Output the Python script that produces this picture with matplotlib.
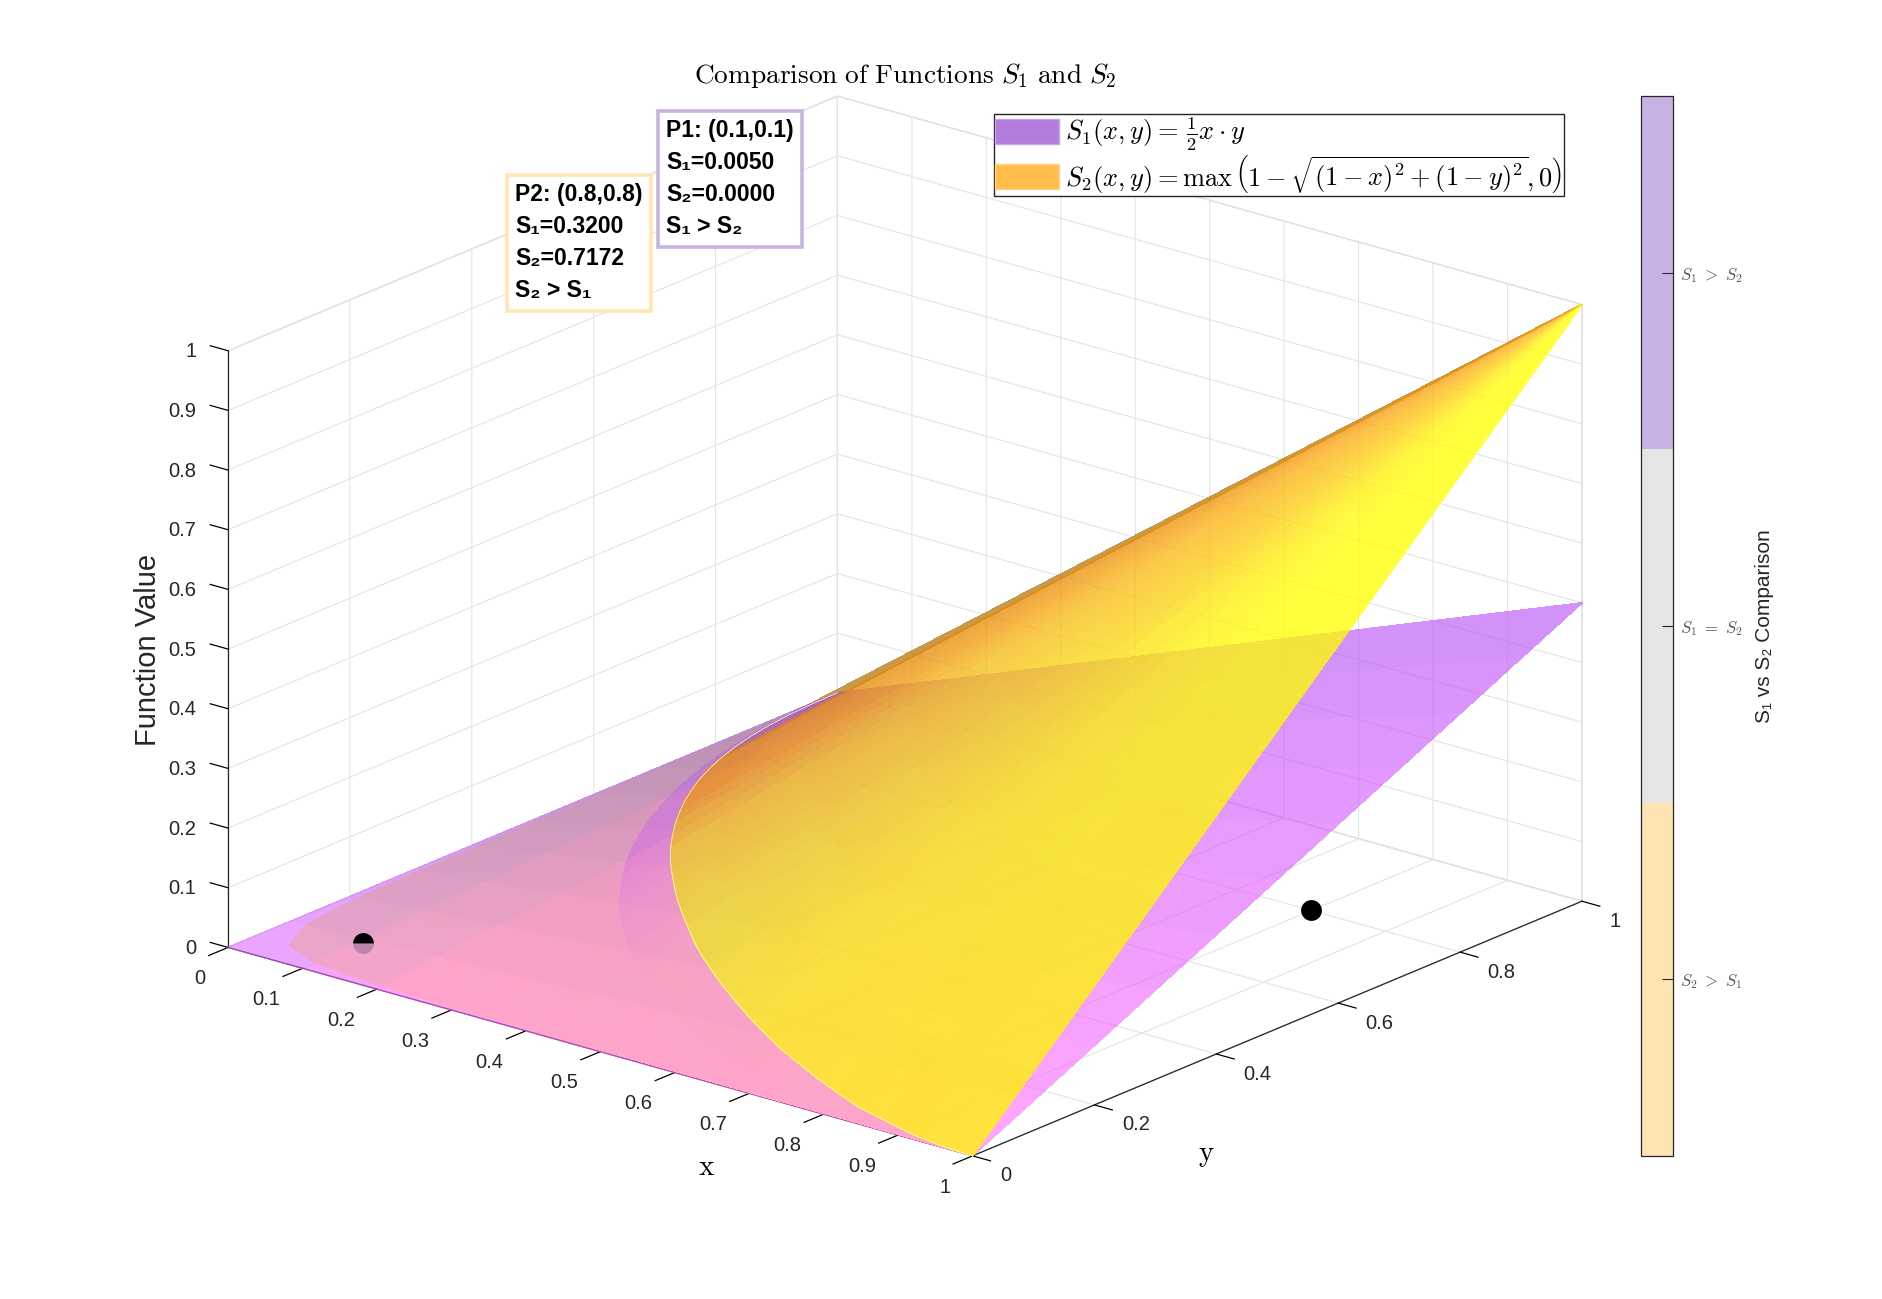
"""
COMPARISON OF S1 AND S2 SURFACES
"""

import matplotlib
matplotlib.use("Agg")

import matplotlib.pyplot as plt
import numpy as np
from matplotlib.cm import ScalarMappable
from matplotlib.colors import BoundaryNorm, ListedColormap
from matplotlib.patches import Patch

plt.rcParams["font.family"] = ["Liberation Sans", "DejaVu Sans"]
plt.rcParams["mathtext.fontset"] = "cm"

W, H = 1882, 1299

# --- data ---
x_ticks = [0, 0.1, 0.2, 0.3, 0.4, 0.5, 0.6, 0.7, 0.8, 0.9, 1]
x_tick_labels = ["0", "0.1", "0.2", "0.3", "0.4", "0.5", "0.6", "0.7", "0.8", "0.9", "1"]
y_ticks = [0, 0.2, 0.4, 0.6, 0.8, 1]
y_tick_labels = ["0", "0.2", "0.4", "0.6", "0.8", "1"]
z_ticks = [0, 0.1, 0.2, 0.3, 0.4, 0.5, 0.6, 0.7, 0.8, 0.9, 1]
z_tick_labels = ["0", "0.1", "0.2", "0.3", "0.4", "0.5", "0.6", "0.7", "0.8", "0.9", "1"]

s1_x = [0, 0.1, 0.2, 0.3, 0.4, 0.5, 0.6, 0.7, 0.8, 0.9, 1]
s1_y = [0, 0.1, 0.2, 0.3, 0.4, 0.5, 0.6, 0.7, 0.8, 0.9, 1]
s1_values = [
    [0, 0, 0, 0, 0, 0, 0, 0, 0, 0, 0],
    [0, 0.005, 0.01, 0.015, 0.02, 0.025, 0.03, 0.035, 0.04, 0.045, 0.05],
    [0, 0.01, 0.02, 0.03, 0.04, 0.05, 0.06, 0.07, 0.08, 0.09, 0.1],
    [0, 0.015, 0.03, 0.045, 0.06, 0.075, 0.09, 0.105, 0.12, 0.135, 0.15],
    [0, 0.02, 0.04, 0.06, 0.08, 0.1, 0.12, 0.14, 0.16, 0.18, 0.2],
    [0, 0.025, 0.05, 0.075, 0.1, 0.125, 0.15, 0.175, 0.2, 0.225, 0.25],
    [0, 0.03, 0.06, 0.09, 0.12, 0.15, 0.18, 0.21, 0.24, 0.27, 0.3],
    [0, 0.035, 0.07, 0.105, 0.14, 0.175, 0.21, 0.245, 0.28, 0.315, 0.35],
    [0, 0.04, 0.08, 0.12, 0.16, 0.2, 0.24, 0.28, 0.32, 0.36, 0.4],
    [0, 0.045, 0.09, 0.135, 0.18, 0.225, 0.27, 0.315, 0.36, 0.405, 0.45],
    [0, 0.05, 0.1, 0.15, 0.2, 0.25, 0.3, 0.35, 0.4, 0.45, 0.5],
]

# S2 is a cone around (1, 1): height by distance from the apex, one ruling per angle
s2_angles = [0, 2.5, 5, 7.5, 10, 12.5, 15, 17.5, 20, 22.5, 25, 27.5, 30, 32.5, 35, 37.5, 40, 42.5, 45,
             47.5, 50, 52.5, 55, 57.5, 60, 62.5, 65, 67.5, 70, 72.5, 75, 77.5, 80, 82.5, 85, 87.5, 90]
s2_radii = [0, 0.1, 0.2, 0.3, 0.4, 0.5, 0.6, 0.7, 0.8, 0.9, 1]
s2_heights = [1, 0.9, 0.8, 0.7, 0.6, 0.5, 0.4, 0.3, 0.2, 0.1, 0]
# where S2 dips under S1 along each ruling
s2_cross_radii = [1.0, 0.999, 0.997, 0.993, 0.99, 0.985, 0.98, 0.975, 0.971, 0.966, 0.962, 0.958,
                  0.955, 0.952, 0.95, 0.948, 0.946, 0.945, 0.945, 0.945, 0.946, 0.948, 0.95, 0.952,
                  0.955, 0.958, 0.962, 0.966, 0.971, 0.975, 0.98, 0.985, 0.99, 0.993, 0.997, 0.999, 1.0]
s2_cross_heights = [0, 0.001, 0.003, 0.007, 0.01, 0.015, 0.02, 0.025, 0.029, 0.034, 0.038, 0.042,
                    0.045, 0.048, 0.05, 0.052, 0.054, 0.055, 0.055, 0.055, 0.054, 0.052, 0.05, 0.048,
                    0.045, 0.042, 0.038, 0.034, 0.029, 0.025, 0.02, 0.015, 0.01, 0.007, 0.003, 0.001, 0]
# flat S2 = 0 part, stops just short of the x = 0 and y = 0 edges
s2_flat_radii = [1, 1.05, 1.1, 1.15, 1.2, 1.25, 1.3, 1.35, 1.4]
s2_flat_ends = [1.0, 1.0, 1.002, 1.007, 1.013, 1.022, 1.033, 1.046, 1.061, 1.079, 1.099, 1.123,
                1.149, 1.179, 1.213, 1.25, 1.29, 1.329, 1.35, 1.329, 1.29, 1.25, 1.213, 1.179,
                1.149, 1.123, 1.099, 1.079, 1.061, 1.046, 1.033, 1.022, 1.013, 1.007, 1.002, 1.0, 1.0]

point_x = [0.1, 0.8]
point_y = [0.1, 0.8]
point_z = [0, 0]

comparison_codes = [-1, 0, 1]
comparison_labels = [r"$S_2\ >\ S_1$", r"$S_1\ =\ S_2$", r"$S_1\ >\ S_2$"]
comparison_colors = ["#FFE3B0", "#E5E5E5", "#C8B2E4"]

p1_text = "P1: (0.1,0.1)\nS\u2081=0.0050\nS\u2082=0.0000\nS\u2081 > S\u2082"
p2_text = "P2: (0.8,0.8)\nS\u2081=0.3200\nS\u2082=0.7172\nS\u2082 > S\u2081"

S2_ALPHA = 0.77
S1_ALPHA = 0.6
BACK_RULINGS = 7  # rulings up to 15 degrees are seen from below


# --- colours ---
def node_colors(t, nodes):
    keys = [n[0] for n in nodes]
    return np.stack([np.interp(t, keys, [n[c] for n in nodes]) for c in (1, 2, 3)], axis=-1)


def s1_colors(x, y):
    rgb = np.ones(x.shape + (4,))
    rgb[..., 0] = 255 - 80 * y - 35 * np.clip(0.2 - x, 0, 0.2) / 0.2
    rgb[..., 1] = 105 - 35 * y
    rgb[..., 2] = 255 - 8 * y
    rgb[..., :3] /= 255
    return rgb


def s2_front_colors(angle, radius):
    # what the cone looks like over white, by ruling and by distance from the apex
    far = node_colors(angle, [(15, 232, 160, 65), (25, 240, 172, 65), (35, 240, 210, 75),
                              (50, 240, 235, 75), (65, 252, 245, 65), (80, 255, 245, 60),
                              (90, 255, 248, 55)])
    near = node_colors(angle, [(15, 240, 170, 65), (30, 252, 190, 72), (50, 254, 215, 70),
                               (65, 255, 245, 65), (75, 255, 255, 60), (90, 255, 255, 55)])
    w = np.clip((radius - 0.3) / 0.6, 0, 1)[..., None]
    shown = near * (1 - w) + far * w
    pigment = np.clip((shown - 255 * (1 - S2_ALPHA)) / S2_ALPHA, 0, 255) / 255
    return np.concatenate([pigment, np.ones(angle.shape + (1,))], axis=-1)


def ring_colors(angle):
    rgb = node_colors(angle, [(0, 215, 180, 130), (30, 225, 190, 150), (40, 238, 225, 130),
                              (52, 247, 251, 111), (90, 255, 255, 130)]) / 255
    return np.concatenate([rgb, np.ones(angle.shape + (1,))], axis=-1)


def flat_colors(y):
    rgb = np.ones(y.shape + (4,))
    rgb[..., 0] = 255 - 27 * y
    rgb[..., 1] = 255 - 13 * y
    rgb[..., 2] = 130 - 63 * y
    rgb[..., :3] /= 255
    return rgb


def alpha_filter(alpha):
    # one alpha for the whole layer, so neighbouring cells do not blend along their seams
    def apply(image, dpi):
        image = image.copy()
        image[..., 3] = np.minimum(image[..., 3], alpha)
        return image, 0, 0
    return apply


def add_surface(ax, X, Y, Z, colors, zorder, alpha=1.0):
    surf = ax.plot_surface(X, Y, Z, facecolors=colors, shade=False, antialiased=False,
                           linewidth=0.4, rcount=200, ccount=200, zorder=zorder)
    if alpha < 1:
        surf.set_agg_filter(alpha_filter(alpha))
    return surf


# --- meshes ---
angles = np.array(s2_angles, dtype=float)
cos_a = np.cos(np.radians(angles))[:, None]
sin_a = np.sin(np.radians(angles))[:, None]
radii = np.array(s2_radii)[None, :]
heights = np.array(s2_heights)[None, :]
cross_r = np.array(s2_cross_radii)[:, None]
cross_h = np.array(s2_cross_heights)[:, None]
angle_grid = np.repeat(angles[:, None], radii.shape[1], axis=1)

upper_r = np.minimum(radii, cross_r)
upper_z = np.maximum(heights, cross_h)
upper_x = 1 - upper_r * cos_a
upper_y = 1 - upper_r * sin_a

ring_r = np.hstack([cross_r, np.ones_like(cross_r)])
ring_z = np.hstack([cross_h, np.zeros_like(cross_h)])
ring_a = np.repeat(angles[:, None], 2, axis=1)

flat_r = np.minimum(np.array(s2_flat_radii)[None, :], np.array(s2_flat_ends)[:, None])
flat_x = 1 - flat_r * cos_a
flat_y = 1 - flat_r * sin_a

s1_X, s1_Y = np.meshgrid(s1_x, s1_y)
s1_Z = np.array(s1_values)

# --- figure ---
fig = plt.figure(figsize=(W / 100, H / 100), dpi=100, facecolor="white")
side = 1600
ax = fig.add_axes([83.4 / W, -148.6 / H, side / W, side / H], projection="3d",
                  proj_type="ortho", computed_zorder=False)
ax.view_init(elev=20, azim=-50.7)
ax.set_box_aspect((1, 1, 0.66), zoom=0.911)
ax.set_xlim(0, 1)
ax.set_ylim(0, 1)
ax.set_zlim(0, 1)

add_surface(ax, flat_x, flat_y, np.zeros_like(flat_x), flat_colors(flat_y), 1)
add_surface(ax, 1 - ring_r * cos_a, 1 - ring_r * sin_a, ring_z, ring_colors(ring_a), 2)

# the part of the cone seen from below sits behind everything else
back_color = np.ones((BACK_RULINGS, upper_r.shape[1], 4))
back_color[..., :3] = np.array([190, 135, 40]) / 255
add_surface(ax, upper_x[:BACK_RULINGS], upper_y[:BACK_RULINGS], upper_z[:BACK_RULINGS],
            back_color, 3, alpha=0.85)

add_surface(ax, s1_X, s1_Y, s1_Z, s1_colors(s1_X, s1_Y), 4, alpha=S1_ALPHA)
front = BACK_RULINGS - 1
add_surface(ax, upper_x[front:], upper_y[front:], upper_z[front:],
            s2_front_colors(angle_grid[front:], upper_r[front:]), 5, alpha=S2_ALPHA)

ax.plot(1 - cross_r[:, 0] * cos_a[:, 0], 1 - cross_r[:, 0] * sin_a[:, 0], s2_cross_heights,
        color="#FFF6C8", linewidth=0.6, zorder=6)

# P1 is half buried in the surface, P2 lies free on the floor
ax.plot(point_x[:1], point_y[:1], point_z[:1], linestyle="none", marker="o", markersize=15,
        markeredgewidth=0, fillstyle="bottom", markerfacecolor=(0.72, 0.52, 0.68),
        markerfacecoloralt="none", zorder=7)
ax.plot(point_x[:1], point_y[:1], point_z[:1], linestyle="none", marker="o", markersize=15,
        markeredgewidth=0, fillstyle="top", markerfacecolor="black",
        markerfacecoloralt="none", zorder=7)
ax.plot(point_x[1:], point_y[1:], point_z[1:], linestyle="none", marker="o", markersize=15,
        markeredgewidth=0, color="black", zorder=7)

# --- axes dressing ---
ax.set_xticks(x_ticks, x_tick_labels)
ax.set_yticks(y_ticks, y_tick_labels)
ax.set_zticks(z_ticks, z_tick_labels)
ax.zaxis._axinfo["juggled"] = (1, 2, 0)
for axis in (ax.xaxis, ax.yaxis, ax.zaxis):
    axis.set_pane_color((1, 1, 1, 1))
    axis.pane.set_edgecolor("#D8D8D8")
    axis.line.set_color("#262626")
    axis.line.set_linewidth(0.9)
    axis._axinfo["grid"]["color"] = "#E4E4E4"
    axis._axinfo["grid"]["linewidth"] = 0.8
    axis._axinfo["tick"]["linewidth"] = {True: 0.9, False: 0.9}
    axis._axinfo["tick"]["color"] = "#262626"
ax.xaxis._axinfo["tick"]["inward_factor"] = 0.4
ax.xaxis._axinfo["tick"]["outward_factor"] = 0.0
ax.yaxis._axinfo["tick"]["inward_factor"] = 0.3
ax.yaxis._axinfo["tick"]["outward_factor"] = 0.0
ax.zaxis._axinfo["tick"]["inward_factor"] = 0.0
ax.zaxis._axinfo["tick"]["outward_factor"] = 0.3
ax.tick_params(axis="x", labelsize=14.5, labelcolor="#262626", pad=14)
ax.tick_params(axis="y", labelsize=14.5, labelcolor="#262626", pad=14)
ax.tick_params(axis="z", labelsize=14.5, labelcolor="#262626", pad=6)
for label in ax.get_xticklabels():
    label.set_ha("right")
    label.set_va("center")
for label in ax.get_yticklabels():
    label.set_ha("left")
    label.set_va("bottom")
for label in ax.get_zticklabels():
    label.set_ha("right")
    label.set_va("center")


def put(x, y, text, **kwargs):
    return fig.text(x / W, 1 - y / H, text, ha="center", va="center", **kwargs)


put(905, 76, r"$\mathrm{Comparison\ of\ Functions}\ S_1\ \mathrm{and}\ S_2$", fontsize=19.7)
put(707, 1167, r"$\mathrm{x}$", fontsize=21)
put(1206, 1155, r"$\mathrm{y}$", fontsize=21)
put(148, 650, "Function Value", fontsize=21, rotation=90, color="#262626")

put(730, 179, p1_text, fontsize=16.5, fontweight="bold", linespacing=1.5,
    multialignment="left",
    bbox=dict(boxstyle="square,pad=0.36", facecolor="white", edgecolor="#C8B4E4", linewidth=2.6))
put(579, 243, p2_text, fontsize=16.5, fontweight="bold", linespacing=1.5,
    multialignment="left",
    bbox=dict(boxstyle="square,pad=0.36", facecolor="white", edgecolor="#FFE6B4", linewidth=2.6))

handles = [Patch(facecolor="#B27DDC", edgecolor="#C9A5E5"), Patch(facecolor="#FFBE4B", edgecolor="#FFD38A")]
labels = [r"$S_1(x,y)=\,\frac{1}{2}x\cdot y$",
          r"$S_2(x,y)=\max\,\left(1-\sqrt{(1-x)^2+(1-y)^2},0\right)$"]
fig.legend(handles, labels, loc="upper left", bbox_to_anchor=(994 / W, 1 - 114 / H),
           fontsize=19, frameon=True, fancybox=False, framealpha=1, edgecolor="#262626",
           handlelength=2.4, handleheight=1.1, handletextpad=0.25, borderpad=0.05,
           labelspacing=0.0, borderaxespad=0)

# --- colour bar ---
cax = fig.add_axes([1641 / W, 1 - 1156 / H, 32 / W, 1060 / H])
norm = BoundaryNorm([-1.5, -0.5, 0.5, 1.5], 3)
cbar = fig.colorbar(ScalarMappable(norm=norm, cmap=ListedColormap(comparison_colors)), cax=cax,
                    ticks=comparison_codes, spacing="proportional")
cbar.ax.set_yticklabels(comparison_labels, fontsize=12, color="#555555")
cbar.ax.tick_params(direction="in", length=8, width=0.8, color="#262626", pad=5)
cbar.outline.set_edgecolor("#262626")
cbar.outline.set_linewidth(0.9)
cbar.ax.minorticks_off()
put(1765, 626, "S\u2081 vs S\u2082 Comparison", fontsize=15, rotation=90, color="#262626")

fig.savefig("out.png", dpi=100, facecolor="white")
